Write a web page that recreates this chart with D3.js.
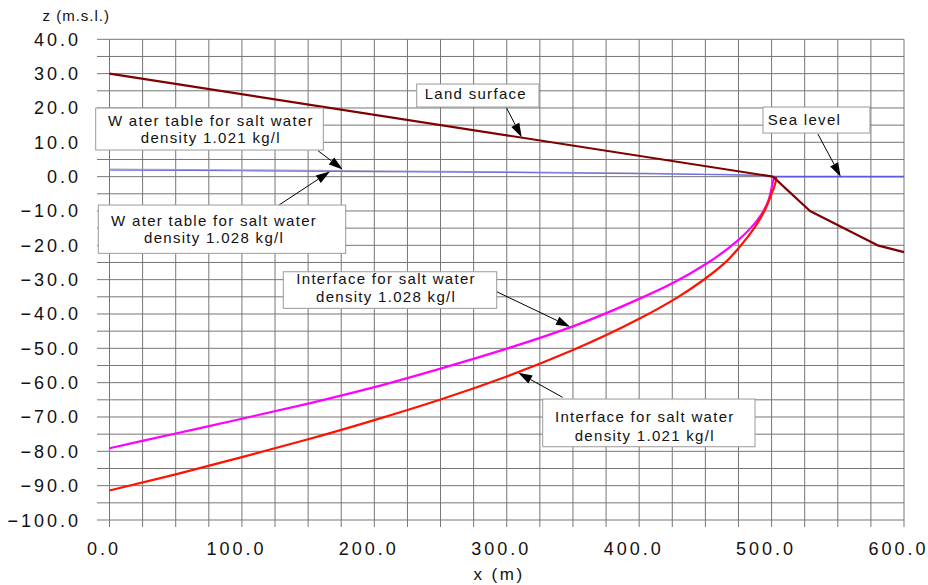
<!DOCTYPE html>
<html>
<head>
<meta charset="utf-8">
<script src="https://cdn.jsdelivr.net/npm/d3@7/dist/d3.min.js"></script>
<style>
  html, body { margin: 0; padding: 0; background: #fff; }
  svg { display: block; }
  text { font-family: "Liberation Sans", Arial, sans-serif; fill: #111; }
</style>
</head>
<body>
<svg id="chart" width="928" height="585"></svg>
<script>
// ---- data (x in m, z in m above mean sea level) ----
const xTicks = [0, 100, 200, 300, 400, 500, 600];
const yTicks = [40, 30, 20, 10, 0, -10, -20, -30, -40, -50, -60, -70, -80, -90, -100];

const landX = [0, 501, 529, 580, 600];
const landZ = [30, 0, -10, -20, -22];

const seaX = [501, 600];
const seaZ = [0, 0];

const wt021X = [0, 100, 200, 300, 400, 450, 490, 501];
const wt021Z = [1.92, 1.72, 1.49, 1.22, 0.87, 0.63, 0.33, 0];

const wt028X = [0, 100, 200, 300, 400, 450, 490, 501];
const wt028Z = [2.22, 1.98, 1.72, 1.41, 1.00, 0.71, 0.36, 0];

const if021X = [0, 50, 100, 150, 200, 250, 300, 350, 400, 429.6, 448.5, 466.1, 476.2, 487.5, 495, 500.1, 503.3, 503.5];
const if021Z = [-91.4, -86.7, -81.7, -76.5, -70.9, -64.9, -58.2, -50.5, -41.4, -35.0, -30.1, -24.6, -20.3, -14.6, -9.7, -4.9, -1.0, 0];

const if028X = [0, 50, 100, 150, 200, 250, 300, 350, 400, 425.8, 451, 474.8, 488.8, 496.3, 501.3, 502];
const if028Z = [-79.1, -74.8, -70.5, -66.1, -61.3, -55.9, -50.1, -43.6, -35.6, -30.9, -25.3, -18.5, -12.9, -8.2, -1.0, 0];

// ---- layout ----
const W = 928, H = 585;
const margin = { left: 109.5, right: 24, top: 39.3, bottom: 65 };
const svg = d3.select("#chart");
svg.append("rect").attr("width", W).attr("height", H).attr("fill", "#fff");

const x = d3.scaleLinear().domain([0, 600]).range([margin.left, W - margin.right]);
const y = d3.scaleLinear().domain([-100, 40]).range([H - margin.bottom, margin.top]);

const gridColor = "#767676";
const g = svg.append("g");

// grid: every 25 m horizontally, every 5 m vertically
const xGrid = d3.range(0, 601, 25);
const yGrid = d3.range(-100, 41, 5);

g.selectAll(".vg").data(xGrid).join("line")
  .attr("x1", d => x(d)).attr("x2", d => x(d))
  .attr("y1", y(40)).attr("y2", y(-100) + 7)
  .attr("stroke", gridColor).attr("stroke-width", 1);

g.selectAll(".hg").data(yGrid).join("line")
  .attr("x1", x(0) - 12.5).attr("x2", x(600))
  .attr("y1", d => y(d)).attr("y2", d => y(d))
  .attr("stroke", gridColor).attr("stroke-width", 1);

// tick labels
const fmt = d3.format(".1f");
g.selectAll(".yl").data(yTicks).join("text")
  .attr("x", 81).attr("y", d => y(d) + 6.5)
  .attr("text-anchor", "end")
  .style("font-size", "18px").style("letter-spacing", "3px")
  .text(d => fmt(d));

g.selectAll(".xl").data(xTicks).join("text")
  .attr("x", d => x(d) - 5.5).attr("y", y(-100) + 35)
  .attr("text-anchor", "middle")
  .style("font-size", "18px").style("letter-spacing", "3px")
  .text(d => fmt(d));

// axis titles
svg.append("text").attr("x", 42.5).attr("y", 20.5)
  .style("font-size", "15px").style("letter-spacing", "1px")
  .text("z (m.s.l.)");
svg.append("text").attr("x", 499).attr("y", 580)
  .attr("text-anchor", "middle")
  .style("font-size", "17px").style("letter-spacing", "2.5px")
  .text("x (m)");

// ---- series ----
const zip = (xs, zs) => xs.map((v, i) => [v, zs[i]]);
const straight = d3.line().x(d => x(d[0])).y(d => y(d[1]));
const smooth = d3.line().x(d => x(d[0])).y(d => y(d[1])).curve(d3.curveCatmullRom.alpha(0.5));
// interfaces turn vertical at the coast, so interpolate x as a function of z
const byDepth = d3.line().x(d => x(d[0])).y(d => y(d[1])).curve(d3.curveMonotoneY);

const series = [
  { pts: zip(wt028X, wt028Z), gen: smooth, color: "#a9a9c9", width: 1.2 },
  { pts: zip(wt021X, wt021Z), gen: smooth, color: "#6f6fe2", width: 1.2 },
  { pts: zip(seaX, seaZ), gen: straight, color: "#5b5be0", width: 1.6 },
  { pts: zip(if028X, if028Z), gen: byDepth, color: "#ff00ff", width: 2.2 },
  { pts: zip(if021X, if021Z), gen: byDepth, color: "#ff1200", width: 2.2 },
  { pts: zip(landX, landZ), gen: straight, color: "#800000", width: 2.2 }
];

svg.append("g").selectAll("path").data(series).join("path")
  .attr("d", d => d.gen(d.pts))
  .attr("fill", "none")
  .attr("stroke", d => d.color)
  .attr("stroke-width", d => d.width)
  .attr("stroke-linejoin", "round");

// ---- callouts: box anchored at (bx, bz) in data units, arrow from/to in data units ----
const notes = [
  { lines: ["Land surface"], bx: 232.0, bz: 26.97, w: 122.3, h: 23, cx: 59.1, base: [15.3],
    from: [300.0, 19.9], to: [311.3, 11.45] },
  { lines: ["Sea level"], bx: 493.5, bz: 20.27, w: 107, h: 26, cx: 41.5, base: [18],
    from: [535.0, 12.4], to: [552.2, 0] },
  { lines: ["W ater table for salt water", "density 1.021 kg/l"], bx: -10.42, bz: 19.98, w: 227.6, h: 42, cx: 115.2, base: [18, 34.7],
    from: [157.5, 7.54], to: [176.1, 2.1] },
  { lines: ["W ater table for salt water", "density 1.028 kg/l"], bx: -8.46, bz: -8.27, w: 247.4, h: 48.3, cx: 115.8, base: [21, 38.3],
    from: [128.0, -8.27], to: [166.5, 1.5] },
  { lines: ["Interface for salt water", "density 1.028 kg/l"], bx: 131.25, bz: -27.7, w: 213.4, h: 36.6, cx: 102.8, base: [12.6, 29.8],
    from: [292.4, -33.52], to: [347.8, -43.71] },
  { lines: ["Interface for salt water", "density 1.021 kg/l"], bx: 327.15, bz: -64.77, w: 212.3, h: 47.7, cx: 102.1, base: [23.3, 41.7],
    from: [342.2, -64.28], to: [308.7, -57.11] }
];

const ann = svg.append("g");

// arrows first, boxes on top
notes.forEach(n => {
  const x1 = x(n.from[0]), y1 = y(n.from[1]);
  const x2 = x(n.to[0]), y2 = y(n.to[1]);
  const dx = x2 - x1, dy = y2 - y1, L = Math.hypot(dx, dy);
  const ux = dx / L, uy = dy / L;
  const head = 14, half = 4.5;
  const bxp = x2 - ux * head, byp = y2 - uy * head;
  ann.append("line")
    .attr("x1", x1).attr("y1", y1).attr("x2", bxp).attr("y2", byp)
    .attr("stroke", "#000").attr("stroke-width", 1);
  ann.append("polygon")
    .attr("points", [[x2, y2], [bxp - uy * half, byp + ux * half], [bxp + uy * half, byp - ux * half]]
      .map(p => p.join(",")).join(" "))
    .attr("fill", "#000");
});

notes.forEach(n => {
  const left = x(n.bx), top = y(n.bz);
  ann.append("rect")
    .attr("x", left).attr("y", top).attr("width", n.w).attr("height", n.h)
    .attr("fill", "#fff").attr("stroke", "#9a9a9a").attr("stroke-width", 1);
  n.lines.forEach((t, i) => {
    ann.append("text")
      .attr("x", left + n.cx).attr("y", top + n.base[i])
      .attr("text-anchor", "middle")
      .style("font-size", "15px").style("letter-spacing", "1.3px")
      .text(t);
  });
});
</script>
</body>
</html>
